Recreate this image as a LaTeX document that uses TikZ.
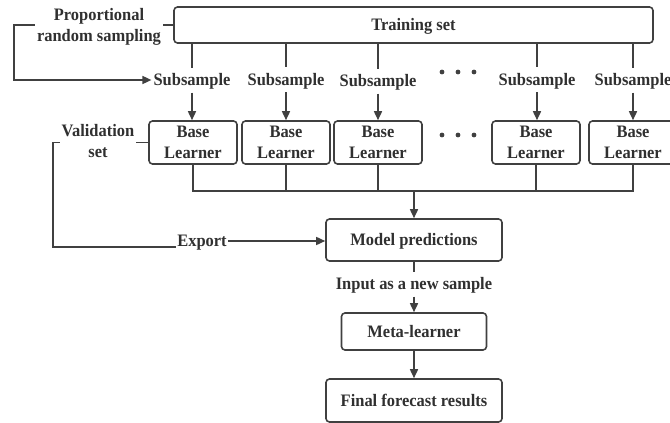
\documentclass[tikz,border=0pt]{standalone}
\usepackage{fontspec}
\setmainfont{Liberation Serif}[FakeStretch=0.94]
\usetikzlibrary{arrows.meta}
\definecolor{lc}{RGB}{64,64,64}
\definecolor{tc}{RGB}{48,48,48}
\begin{document}
\begin{tikzpicture}[x=1pt,y=-1pt,
  every node/.style={font=\fontsize{17.5}{21}\selectfont\bfseries, text=tc},
  ct/.style={text height=11.6pt, text depth=0pt},
  box/.style={draw=lc, line width=1.6pt, rounded corners=3.5pt, inner sep=0pt, align=center},
  lbl/.style={inner xsep=2pt, inner ysep=6.5pt, align=center},
  ln/.style={draw=lc, line width=1.6pt},
  arr/.style={ln, -{Triangle[length=9pt,width=8pt]}}]
\useasboundingbox (0,0) rectangle (670,423);

% training set
\node[box, ct, minimum width=479pt, minimum height=36pt] (train) at (413.5,25) {Training set};
\node[lbl, inner ysep=1pt] (p) at (99,26.4) {Proportional\\random sampling};
\draw[ln] (p.east |- train.west) -- (train.west);

% subsample labels
\node[lbl, ct] (s1) at (192,80) {Subsample};
\node[lbl, ct] (s2) at (286,79.5) {Subsample};
\node[lbl, ct] (s3) at (378,81) {Subsample};
\node[lbl, ct] (s4) at (537,79.5) {Subsample};
\node[lbl, ct] (s5) at (633,80) {Subsample};

% base learners
\foreach \n/\x in {1/193,2/286,3/378,4/536,5/633}{
  \node[box, minimum width=88pt, minimum height=43pt] (b\n) at (\x,142.5) {Base\\Learner};
}

\foreach \n in {1,...,5}{
  \draw[ln] (s\n.north |- train.south) -- (s\n.north);
  \draw[arr] (s\n.south) -- (s\n.south |- b\n.north);
}

\draw[arr] (p.west |- train.west) -- ++(-21,0) |- (s1.west);

% dots
\foreach \x in {442,458,474}{
  \fill[lc] (\x,72) circle (2.4pt);
  \fill[lc] (\x,135) circle (2.4pt);
}

% lower part
\node[box, ct, minimum width=176pt, minimum height=42pt] (mp) at (414,240) {Model predictions};
\node[lbl, ct] (inp) at (414,284) {Input as a new sample};
\node[box, ct, minimum width=145pt, minimum height=37pt] (meta) at (414,331.5) {Meta-learner};
\node[box, ct, minimum width=176pt, minimum height=43pt] (final) at (414,400.5) {Final forecast results};

\coordinate (m) at (414,191);
\draw[ln] (b1.south) -- (b1.south |- m) -- (b5.south |- m) -- (b5.south);
\foreach \n in {2,3,4}{
  \draw[ln] (b\n.south) -- (b\n.south |- m);
}
\draw[arr] (m) -- (m |- mp.north);
\draw[ln] (mp.south) -- (inp.north);
\draw[arr] (inp.south) -- (meta.north);
\draw[arr] (meta.south) -- (final.north);

% validation set
\node[lbl, inner ysep=1pt] (v) at (98,141.5) {Validation\\set};
\node[lbl, ct, inner xsep=1pt] (e) at (202,241) {Export};
\draw[ln] (v.east |- b1.west) -- (b1.west);
\draw[ln] (v.west |- b1.west) -- ++(-6.5,0) |- (e.base west);
\draw[arr] (e.east) -- (e.east -| mp.west);
\end{tikzpicture}
\end{document}
